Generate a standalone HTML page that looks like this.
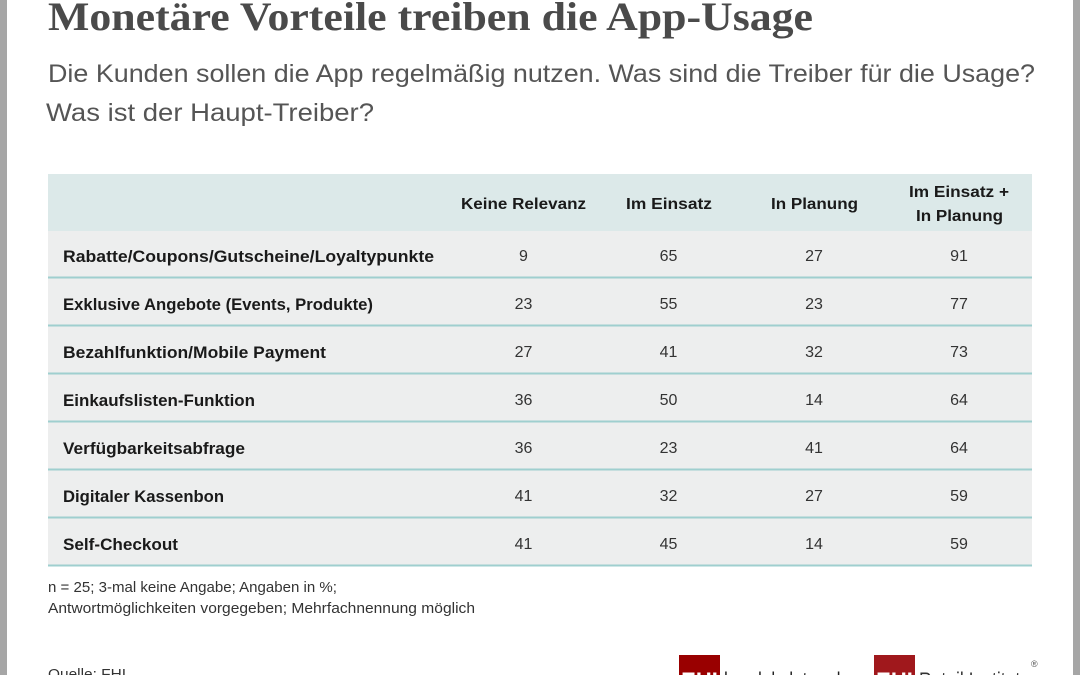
<!DOCTYPE html>
<html><head><meta charset="utf-8"><style>
html,body{margin:0;padding:0;background:#fff;}
svg{display:block;}
</style></head><body>
<svg width="1080" height="675" viewBox="0 0 1080 675" xmlns="http://www.w3.org/2000/svg">
<rect x="0" y="0" width="1080" height="675" fill="#ffffff"/>
<rect x="0" y="0" width="7" height="675" fill="#a6a6a6"/>
<rect x="1073" y="0" width="7" height="675" fill="#a6a6a6"/>
<g font-family="Liberation Serif, serif" font-weight="bold" fill="#4a4a4a">
<text x="48" y="30" font-size="40" textLength="765" lengthAdjust="spacingAndGlyphs">Monetäre Vorteile treiben die App-Usage</text>
</g>
<g font-family="Liberation Sans, sans-serif" fill="#555555" font-size="25">
<text x="48" y="82" textLength="987" lengthAdjust="spacingAndGlyphs">Die Kunden sollen die App regelmäßig nutzen. Was sind die Treiber für die Usage?</text>
<text x="46" y="121" textLength="328" lengthAdjust="spacingAndGlyphs">Was ist der Haupt-Treiber?</text>
</g>
<!-- table -->
<rect x="48" y="174" width="984" height="57" fill="#dce9e9"/>
<g fill="#edeeee">
<rect x="48" y="231" width="984" height="46"/>
<rect x="48" y="278" width="984" height="47"/>
<rect x="48" y="326" width="984" height="47"/>
<rect x="48" y="374" width="984" height="47"/>
<rect x="48" y="422" width="984" height="47"/>
<rect x="48" y="470" width="984" height="47"/>
<rect x="48" y="518" width="984" height="47"/>
</g>
<g fill="#9fcfcf">
<rect x="48" y="276.5" width="984" height="2"/>
<rect x="48" y="324.5" width="984" height="2"/>
<rect x="48" y="372.5" width="984" height="2"/>
<rect x="48" y="420.5" width="984" height="2"/>
<rect x="48" y="468.5" width="984" height="2"/>
<rect x="48" y="516.5" width="984" height="2"/>
<rect x="48" y="564.5" width="984" height="2"/>
</g>
<g font-family="Liberation Sans, sans-serif" font-weight="bold" font-size="16" fill="#1a1a1a" text-anchor="middle">
<text x="523.5" y="209" textLength="125" lengthAdjust="spacingAndGlyphs">Keine Relevanz</text>
<text x="669" y="209" textLength="86" lengthAdjust="spacingAndGlyphs">Im Einsatz</text>
<text x="814.5" y="209" textLength="87" lengthAdjust="spacingAndGlyphs">In Planung</text>
<text x="959" y="197" textLength="100" lengthAdjust="spacingAndGlyphs">Im Einsatz +</text>
<text x="959.5" y="221" textLength="87" lengthAdjust="spacingAndGlyphs">In Planung</text>
</g>
<g font-family="Liberation Sans, sans-serif" font-weight="bold" font-size="17" fill="#1a1a1a">
<text x="63" y="262" textLength="371" lengthAdjust="spacingAndGlyphs">Rabatte/Coupons/Gutscheine/Loyaltypunkte</text>
<text x="63" y="310" textLength="310" lengthAdjust="spacingAndGlyphs">Exklusive Angebote (Events, Produkte)</text>
<text x="63" y="358" textLength="263" lengthAdjust="spacingAndGlyphs">Bezahlfunktion/Mobile Payment</text>
<text x="63" y="406" textLength="192" lengthAdjust="spacingAndGlyphs">Einkaufslisten-Funktion</text>
<text x="63" y="454" textLength="182" lengthAdjust="spacingAndGlyphs">Verfügbarkeitsabfrage</text>
<text x="63" y="502" textLength="161" lengthAdjust="spacingAndGlyphs">Digitaler Kassenbon</text>
<text x="63" y="550" textLength="115" lengthAdjust="spacingAndGlyphs">Self-Checkout</text>
</g>
<g font-family="Liberation Sans, sans-serif" font-size="16" fill="#333333" text-anchor="middle">
<text x="523.5" y="261">9</text><text x="668.5" y="261">65</text><text x="814" y="261">27</text><text x="959" y="261">91</text>
<text x="523.5" y="309">23</text><text x="668.5" y="309">55</text><text x="814" y="309">23</text><text x="959" y="309">77</text>
<text x="523.5" y="357">27</text><text x="668.5" y="357">41</text><text x="814" y="357">32</text><text x="959" y="357">73</text>
<text x="523.5" y="405">36</text><text x="668.5" y="405">50</text><text x="814" y="405">14</text><text x="959" y="405">64</text>
<text x="523.5" y="453">36</text><text x="668.5" y="453">23</text><text x="814" y="453">41</text><text x="959" y="453">64</text>
<text x="523.5" y="501">41</text><text x="668.5" y="501">32</text><text x="814" y="501">27</text><text x="959" y="501">59</text>
<text x="523.5" y="549">41</text><text x="668.5" y="549">45</text><text x="814" y="549">14</text><text x="959" y="549">59</text>
</g>
<g font-family="Liberation Sans, sans-serif" font-size="15" fill="#333333">
<text x="48" y="592" textLength="289" lengthAdjust="spacingAndGlyphs">n = 25; 3-mal keine Angabe; Angaben in %;</text>
<text x="48" y="613" textLength="427" lengthAdjust="spacingAndGlyphs">Antwortmöglichkeiten vorgegeben; Mehrfachnennung möglich</text>
<text x="48" y="679" textLength="78" lengthAdjust="spacingAndGlyphs">Quelle: FHI</text>
</g>
<!-- logos -->
<rect x="679" y="655" width="41" height="25" fill="#990000"/>
<text x="699.5" y="688" font-family="Liberation Sans, sans-serif" font-weight="bold" font-size="22" fill="#ffffff" text-anchor="middle">EHI</text>
<text x="724" y="687" font-family="Liberation Sans, sans-serif" font-size="21" fill="#222222" textLength="126" lengthAdjust="spacingAndGlyphs">handelsdaten.de</text>
<rect x="874" y="655" width="41" height="25" fill="#a0181c"/>
<text x="894.5" y="688" font-family="Liberation Sans, sans-serif" font-weight="bold" font-size="22" fill="#ffffff" text-anchor="middle">EHI</text>
<text x="919" y="687" font-family="Liberation Sans, sans-serif" font-size="21" fill="#333333" textLength="111" lengthAdjust="spacingAndGlyphs">Retail Institute</text>
<text x="1031" y="667" font-family="Liberation Sans, sans-serif" font-size="9" fill="#555555">®</text>
</svg>
</body></html>
